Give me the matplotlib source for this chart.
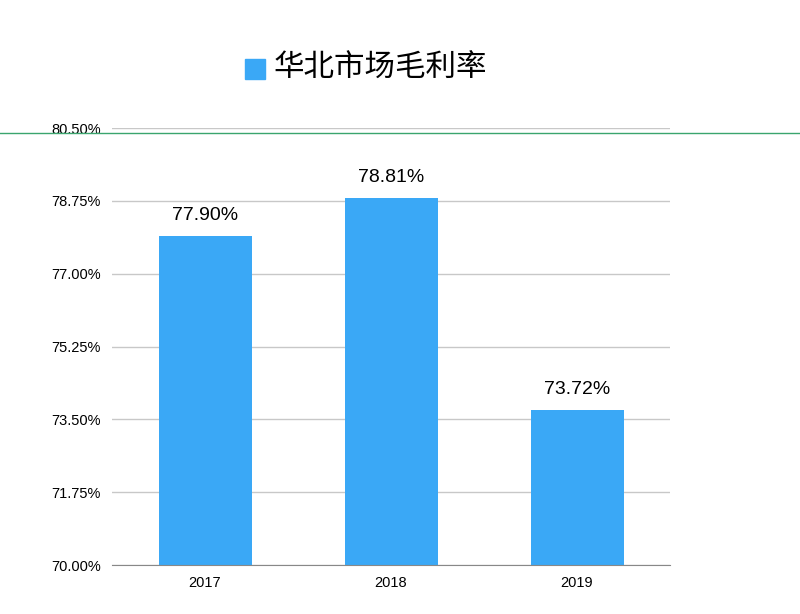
import matplotlib
matplotlib.use("Agg")
import matplotlib.pyplot as plt
from matplotlib.lines import Line2D
from matplotlib.patches import Rectangle

years = ["2017", "2018", "2019"]
margins = [77.90, 78.81, 73.72]
yticks = [70.00, 71.75, 73.50, 75.25, 77.00, 78.75, 80.50]
series_name = "华北市场毛利率"

plt.rcParams["font.family"] = "Liberation Sans"
fig = plt.figure(figsize=(8, 6.14), dpi=100)
ax = fig.add_axes([0.14, 0.0798, 0.6975, 0.7117])
color = "#3aa8f6"
x = range(len(years))
ax.bar(x, margins, width=0.5, color=color, zorder=2)
ax.set_xlim(-0.5, 2.5)
ax.set_ylim(70, 80.5)
ax.set_yticks(yticks)
ax.set_yticklabels([f"{v:.2f}%" for v in yticks], fontsize=10.5)
ax.set_xticks(list(x))
ax.set_xticklabels(years, fontsize=10.5)
ax.grid(axis="y", color="#c8c8c8", linewidth=1, zorder=0)
for s in ["left", "right", "top"]:
    ax.spines[s].set_visible(False)
ax.spines["bottom"].set_color("#888888")
ax.tick_params(length=0, pad=8)
for xi, v in zip(x, margins):
    ax.text(xi, v + 0.3, f"{v:.2f}%", ha="center", va="bottom", fontsize=14)

fig.add_artist(Rectangle((245/800, 1-79/614), 20/800, 20/614, color=color, transform=fig.transFigure))
fig.text(274/800, 1-68/614, series_name, fontsize=22, va="center", family="Noto Sans CJK SC")
fig.add_artist(Line2D([0, 1], [1-133/614]*2, color="#3aa56e", linewidth=1, transform=fig.transFigure))
fig.savefig("out.png", dpi=100)
